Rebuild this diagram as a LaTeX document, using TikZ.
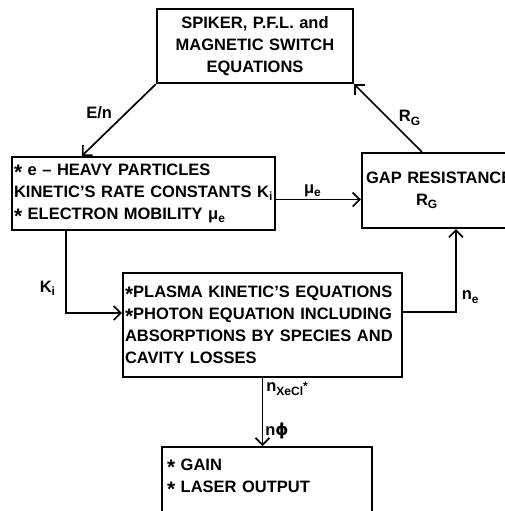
\documentclass[tikz,border=0pt]{standalone}
\usepackage{fontspec}
\setmainfont{Liberation Sans}
\newfontfamily\greekfont{DejaVu Sans}
\usetikzlibrary{arrows.meta}
\newcommand{\hand}{\fontsize{16.5}{22}\selectfont\bfseries}
\newcommand{\stx}{\raisebox{-4pt}{\fontsize{21}{22}\selectfont*}}
\newcommand{\lowr}[1]{\raisebox{-3.5pt}{\fontsize{12}{12}\selectfont #1}}

\begin{document}
\begin{tikzpicture}[x=1pt,y=-1pt,
    blk/.style={draw, line width=2.2pt, font=\hand, inner xsep=2pt, inner ysep=0pt},
    link/.style={line width=1.7pt, -{Straight Barb[length=7pt,width=14pt]}},
    lbl/.style={font=\hand, inner sep=2pt}]
  \useasboundingbox (0,0) rectangle (505,511);
  \clip (0,0) rectangle (505,511);
  % boxes
  \node[blk, text width=192pt, minimum height=74pt, align=center] (spiker) at (255,46)
    {SPIKER, P.F.L. and\\MAGNETIC SWITCH\\EQUATIONS};
  \node[blk, text width=259pt, minimum height=73pt, align=left] (kinetic) at (143.5,193.5)
    {\stx{} e -- HEAVY PARTICLES\\KINETIC'S RATE CONSTANTS K\lowr{i}\\\stx{} ELECTRON MOBILITY μ\lowr{e}};
  \node[blk, inner xsep=4pt, text width=162pt, minimum height=75pt, align=left] (gap) at (447,190.5)
    {GAP RESISTANCE\\\hspace*{50pt}R\lowr{G}};
  \node[blk, text width=275pt, minimum height=104pt, align=left] (plasma) at (262.5,325)
    {\stx PLASMA KINETIC'S EQUATIONS\\\stx PHOTON EQUATION INCLUDING\\ABSORPTIONS BY SPECIES AND\\CAVITY LOSSES};
  \node[blk, anchor=north, inner xsep=5pt, inner ysep=12pt, text width=200pt, text depth=60pt, align=left] (gain) at (267,446)
    {\stx{} GAIN\\\stx{} LASER OUTPUT};
  % connectors
  \draw[link] (spiker.south west) -- ([xshift=71pt]kinetic.north west)
    node[lbl, midway, above left, xshift=-4pt, yshift=-2pt] {E/n};
  \draw[link] ([xshift=61pt]gap.north west) -- (spiker.south east)
    node[lbl, midway, right=8pt] {R\lowr{G}};
  \draw[link] ([yshift=-6pt]kinetic.east) -- ([yshift=-6pt]kinetic.east -| gap.west)
    node[lbl, midway, above, xshift=-6pt] {μ\lowr{e}};
  \draw[link] ([xshift=55pt]kinetic.south west) |- ([yshift=12pt]plasma.west)
    node[lbl, pos=.35, left=8pt] {K\lowr{i}};
  \draw[link] ([yshift=13pt]plasma.east) -| ([xshift=95pt]gap.south west)
    node[lbl, pos=.59, right=3pt] {n\lowr{e}};
  \draw[link] (plasma.south) -- (plasma.south |- gain.north)
    node[lbl, pos=0, anchor=north west, inner sep=3pt] {n\lowr{XeCl\raisebox{5pt}{*}}}
    node[lbl, pos=1, anchor=south west, yshift=4pt] {n{\greekfont ϕ}};
\end{tikzpicture}
\end{document}
